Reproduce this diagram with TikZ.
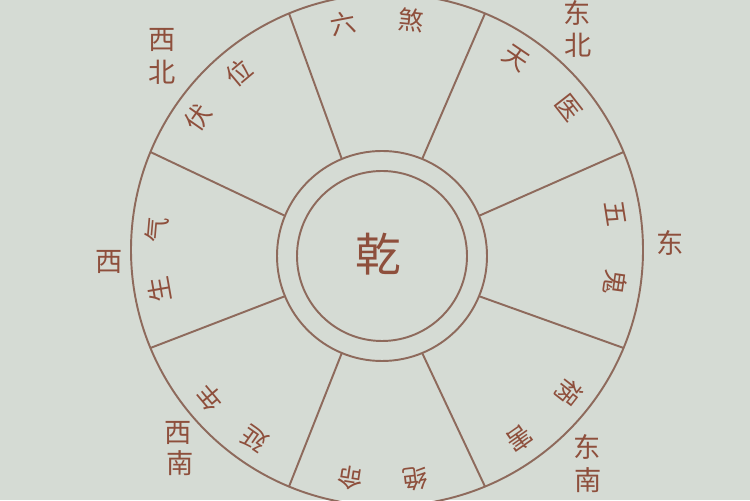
\documentclass[tikz,border=0pt]{standalone}
\usepackage{fontspec}
\newfontfamily\cjk{Noto Sans CJK SC}
\definecolor{paper}{HTML}{D5DBD4}
\definecolor{rim}{HTML}{8E6A5C}
\definecolor{ink}{HTML}{8E4F3C}
\tikzset{
  ring/.style = {draw=rim, line width=1.1pt},
  sec/.style  = {text=ink, inner sep=0pt, outer sep=0pt,
                 font=\cjk\fontsize{14.5}{15}\selectfont},
  dir/.style  = {text=ink, inner sep=0pt, outer sep=0pt,
                 font=\cjk\fontsize{15.5}{16}\selectfont}
}

\begin{document}
\begin{tikzpicture}[x=0.02cm, y=0.02cm]
	\def \Rout{256}
	\def \Rhub{105}
	\def \Rin{85}
	\def \rt{231}

	\fill[paper] (0,0) rectangle (750,500);
	\useasboundingbox (0,0) rectangle (750,500);
	\clip (0,0) rectangle (750,500);

	\coordinate (C) at (387,250); % wheel
	\coordinate (H) at (382,244); % hub

	% Circles
	\draw[ring] (C) circle (\Rout);
	\draw[ring] (H) circle (\Rhub);
	\draw[ring] (H) circle (\Rin);

	% Spokes
	\draw[ring] ([shift={(22.5:\Rhub)}]H)  -- ([shift={(22.5:\Rout)}]C);
	\draw[ring] ([shift={(67.5:\Rhub)}]H)  -- ([shift={(67.5:\Rout)}]C);
	\draw[ring] ([shift={(112.5:\Rhub)}]H) -- ([shift={(112.5:\Rout)}]C);
	\draw[ring] ([shift={(157.5:\Rhub)}]H) -- ([shift={(157.5:\Rout)}]C);
	\draw[ring] ([shift={(202.5:\Rhub)}]H) -- ([shift={(202.5:\Rout)}]C);
	\draw[ring] ([shift={(247.5:\Rhub)}]H) -- ([shift={(247.5:\Rout)}]C);
	\draw[ring] ([shift={(292.5:\Rhub)}]H) -- ([shift={(292.5:\Rout)}]C);
	\draw[ring] ([shift={(337.5:\Rhub)}]H) -- ([shift={(337.5:\Rout)}]C);

	% Centre
	\node[text=ink, inner sep=0pt, font=\cjk\fontsize{26}{27}\selectfont] (qian) at (378,246) {乾};

	% Sectors
	\node[sec, rotate=11]   (liu)  at ([shift={(101:\rt)}]C) {六}; % N
	\node[sec, rotate=-6]   (sha)  at ([shift={(84:\rt)}]C)  {煞};
	\node[sec, rotate=-34]  (tian) at ([shift={(56:\rt)}]C)  {天}; % NE
	\node[sec, rotate=-52]  (yi)   at ([shift={(38:\rt)}]C)  {医};
	\node[sec, rotate=-81]  (wu)   at ([shift={(9:\rt)}]C)   {五}; % E
	\node[sec, rotate=-98]  (gui)  at ([shift={(-8:\rt)}]C)  {鬼};
	\node[sec, rotate=-128] (huo)  at ([shift={(-38:\rt)}]C) {祸}; % SE
	\node[sec, rotate=-145] (hai)  at ([shift={(-55:\rt)}]C) {害};
	\node[sec, rotate=-173] (jue)  at ([shift={(-83:\rt)}]C) {绝}; % S
	\node[sec, rotate=171]  (ming) at ([shift={(-99:\rt)}]C) {命};
	\node[sec, rotate=145]  (yan)  at ([shift={(235:\rt)}]C) {延}; % SW
	\node[sec, rotate=130]  (nian) at ([shift={(220:\rt)}]C) {年};
	\node[sec, rotate=100]  (sheng) at ([shift={(190:\rt)}]C) {生}; % W
	\node[sec, rotate=85]   (qi)   at ([shift={(175:\rt)}]C) {气};
	\node[sec, rotate=55]   (fu)   at ([shift={(145:\rt)}]C) {伏}; % NW
	\node[sec, rotate=40]   (wei)  at ([shift={(130:\rt)}]C) {位};

	% Directions
	\node[dir] (nwA) at (162,460) {西};
	\node[dir] (nwB) at (162,428) {北};
	\node[dir] (neA) at (577,487) {东};
	\node[dir] (neB) at (578,455) {北};
	\node[dir] (east) at (670,257) {东};
	\node[dir] (seA) at (587,53)  {东};
	\node[dir] (seB) at (588,20)  {南};
	\node[dir] (swA) at (178,67)  {西};
	\node[dir] (swB) at (180,37)  {南};
	\node[dir] (west) at (109,238) {西};

\end{tikzpicture}
\end{document}
